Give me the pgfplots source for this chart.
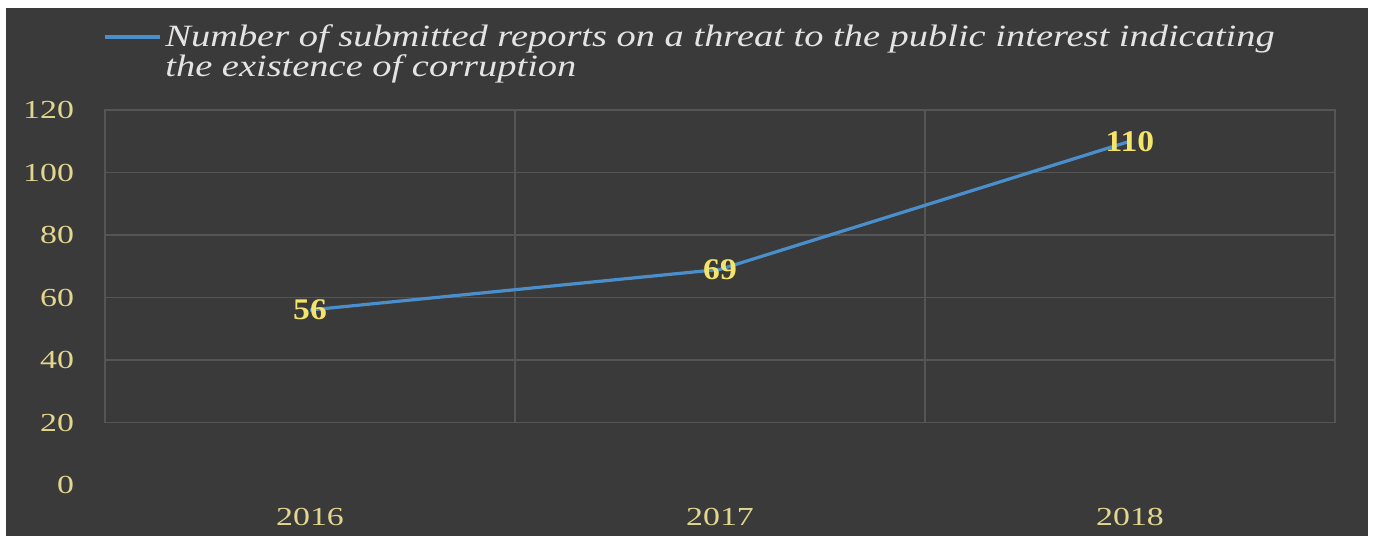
\documentclass[border=0pt]{standalone}
\usepackage{fontspec}
\setmainfont{Liberation Serif}
\newfontfamily\legfont[FakeStretch=1.24]{Liberation Serif}
\newfontfamily\tickfont[FakeStretch=1.3]{Liberation Serif}
\newfontfamily\datafont[FakeStretch=1.12]{Liberation Serif}
\usepackage{pgfplots}
\pgfplotsset{compat=1.18}
\definecolor{bg}{HTML}{3A3A3A}
\definecolor{gridc}{HTML}{555555}
\definecolor{lineblue}{HTML}{4A8FCB}
\definecolor{tickc}{HTML}{E2D68E}
\definecolor{datac}{HTML}{F4E46A}
\definecolor{legc}{HTML}{E4E4E4}
\begin{document}
\begin{tikzpicture}
\path[use as bounding box, fill=white] (-52.5pt,-25.5pt) rectangle (635pt,242.5pt);
\fill[bg] (-49.5pt,-25.5pt) rectangle (631.5pt,238.5pt);
\begin{axis}[
  at={(0pt,0pt)}, anchor=south west,
  scale only axis, width=615pt, height=187.5pt,
  xmin=-0.5, xmax=2.5, ymin=0, ymax=120,
  axis line style={draw=none},
  tick style={draw=none},
  xtick={0,1,2}, xticklabels={2016,2017,2018},
  ytick={0,20,...,120},
  /pgf/number format/assume math mode=true,
  xticklabel style={text=tickc, font=\tickfont\fontsize{13}{13}\selectfont, yshift=-8pt},
  yticklabel style={text=tickc, font=\tickfont\fontsize{13}{13}\selectfont, xshift=-12pt},
  clip=false,
]
\draw[gridc, line width=0.8pt] (axis cs:-0.5,20) rectangle (axis cs:2.5,120);
\pgfplotsinvokeforeach{40,60,80,100}{\draw[gridc, line width=0.8pt] (axis cs:-0.5,#1) -- (axis cs:2.5,#1);}
\pgfplotsinvokeforeach{0.5,1.5}{\draw[gridc, line width=0.8pt] (axis cs:#1,20) -- (axis cs:#1,120);}
\addplot[color=lineblue, line width=1.6pt, mark=none,
  nodes near coords,
  every node near coord/.append style={anchor=center, text=datac, font=\datafont\bfseries\fontsize{15}{15}\selectfont}]
  coordinates {(0,56) (1,69) (2,110)};
\end{axis}
\draw[lineblue, line width=1.6pt] (0pt,224pt) -- (27.5pt,224pt);
\node[anchor=base west, inner sep=0pt, text=legc, font=\legfont\itshape\fontsize{15.5}{15.5}\selectfont] at (30pt,219pt) {Number of submitted reports on a threat to the public interest indicating};
\node[anchor=base west, inner sep=0pt, text=legc, font=\legfont\itshape\fontsize{15.5}{15.5}\selectfont] at (30pt,204pt) {the existence of corruption};
\end{tikzpicture}
\end{document}
